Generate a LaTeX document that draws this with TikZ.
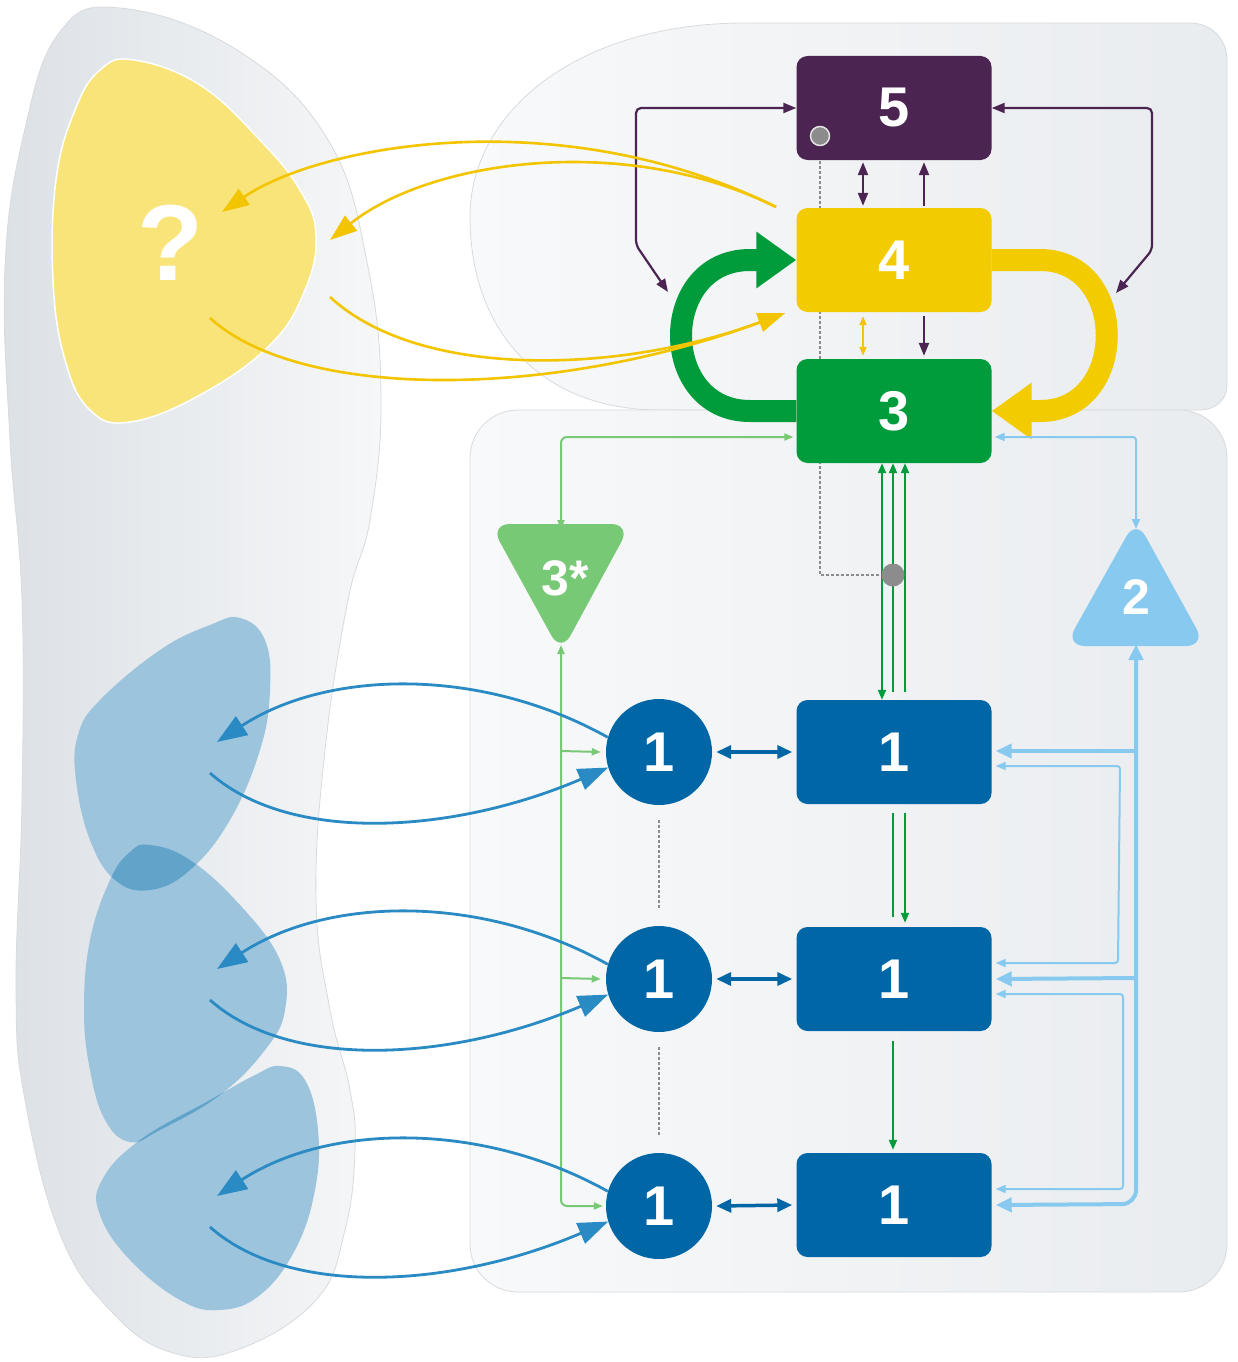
\documentclass[tikz,border=0pt]{standalone}
\usepackage{fontspec}
\newfontfamily\nf{Liberation Sans}
\usetikzlibrary{arrows.meta}
\definecolor{cpurp}{HTML}{4B2452}
\definecolor{cyel}{HTML}{F2CC00}
\definecolor{cgrn}{HTML}{009B3A}
\definecolor{cdblue}{HTML}{0066A6}
\definecolor{clgrn}{HTML}{78C976}
\definecolor{clblue}{HTML}{88C9EF}
\definecolor{cblobyel}{HTML}{F9E47A}
\definecolor{cblob}{HTML}{9DC4DD}
\definecolor{cblobdark}{HTML}{62A3CA}
\definecolor{cbarrow}{HTML}{2A8AC4}
\definecolor{cyarrow}{HTML}{F2C500}
\definecolor{cgray}{HTML}{8C8C8C}
\definecolor{cpanL}{HTML}{F8F9FA}
\definecolor{cpanR}{HTML}{E9ECEF}
\definecolor{couterL}{HTML}{DCE1E6}
\definecolor{couterR}{HTML}{F6F7F8}
\definecolor{cborder}{HTML}{D8DBDE}
\tikzset{
  box/.style={rectangle, rounded corners=11pt, minimum width=195pt, minimum height=104pt, inner sep=0pt, text=white, font=\nf\bfseries\fontsize{56}{56}\selectfont},
  circ/.style={circle, fill=cdblue, minimum size=106pt, inner sep=0pt, text=white, font=\nf\bfseries\fontsize{56}{56}\selectfont},
  trilabel/.style={inner sep=0pt, text=white, font=\nf\bfseries\fontsize{50}{50}\selectfont},
  gdotnode/.style={circle, fill=cgray, draw=white!75!cgray, line width=1.5pt, inner sep=0pt},
  gdotline/.style={draw=cgray, line width=2pt, dash pattern=on 2.5pt off 2.5pt},
  purp/.style={draw=cpurp, line width=2.2pt, rounded corners=5pt, >={Triangle[length=13pt,width=10pt]}},
  yelthin/.style={draw=cyarrow, line width=2.6pt, >={Triangle[length=27pt,width=19pt]}},
  bluecurve/.style={draw=cbarrow, line width=2.8pt, >={Triangle[length=30pt,width=22pt]}},
  grnthin/.style={draw=cgrn, line width=2pt, >={Triangle[length=10pt,width=8pt]}},
  lgrn/.style={draw=clgrn, line width=2pt, rounded corners=6pt, >={Triangle[length=9pt,width=7pt]}},
  lblue/.style={draw=clblue, line width=2pt, rounded corners=3pt, >={Triangle[length=10pt,width=8pt]}},
  lbluethick/.style={draw=clblue, line width=4pt, rounded corners=14pt, >={Triangle[length=16pt,width=14pt]}},
  dblue/.style={draw=cdblue, line width=3.5pt, >={Triangle[length=15pt,width=13pt]}},
}
\begin{document}
\begin{tikzpicture}[x=1pt,y=-1pt]
\useasboundingbox (0,0) rectangle (1237,1362);
\fill[white] (0,0) rectangle (1237,1362);

% outer grey region
\path[draw=cborder, line width=0.8pt, left color=couterL, right color=couterR]
  plot[smooth cycle, tension=0.7] coordinates {(120,8) (237,50) (328,140) (368,267) (381,400) (370,520) (348,600) (325,750) (316,900) (330,1010) (350,1090) (355,1150) (345,1230) (316,1300) (237,1350) (170,1352) (110,1310) (60,1234) (25,1100) (16,990) (22,800) (22,600) (10,440) (5,267) (24,133) (59,33)};

% top-right panel
\path[draw=cborder, line width=0.8pt, left color=cpanL, right color=cpanR]
  (745,23) -- (1190,23) .. controls (1211,23) and (1227,39) .. (1227,60) -- (1227,385)
  .. controls (1227,400) and (1215,410) .. (1200,410) -- (660,410)
  .. controls (540,410) and (470,330) .. (470,217)
  .. controls (470,110) and (580,23) .. (745,23) -- cycle;
% lower-right panel
\path[draw=cborder, line width=0.8pt, left color=cpanL, right color=cpanR, rounded corners=48pt]
  (470,410) rectangle (1227,1292);

% yellow blob
\path[fill=cblobyel, draw=white, line width=1.5pt]
  plot[smooth cycle, tension=0.7] coordinates {(134,60) (200,85) (260,140) (300,190) (316,235) (305,290) (270,345) (200,395) (130,422) (90,410) (65,360) (53,280) (56,180) (75,110) (100,70)};
\node[inner sep=0pt, text=white, font=\nf\bfseries\fontsize{108}{108}\selectfont] (qm) at (170,243) {?};

% blue blobs
\def\blobA{plot[smooth cycle, tension=0.7] coordinates {(240,618) (265,640) (270,690) (260,750) (230,820) (190,870) (150,890) (115,880) (90,840) (76,780) (78,735) (100,700) (160,650) (210,625)}}
\def\blobB{plot[smooth cycle, tension=0.7] coordinates {(150,845) (190,860) (240,905) (280,960) (285,1010) (265,1050) (220,1095) (160,1130) (130,1142) (105,1120) (90,1070) (84,1010) (90,940) (110,880) (130,852)}}
\def\blobC{plot[smooth cycle, tension=0.7] coordinates {(280,1066) (305,1080) (318,1130) (315,1190) (295,1250) (260,1295) (220,1310) (180,1300) (130,1260) (100,1215) (102,1180) (140,1140) (210,1100) (255,1075)}}
\fill[cblob] \blobA;
\fill[cblob] \blobB;
\fill[cblob] \blobC;
\begin{scope}\clip \blobA; \fill[cblobdark] \blobB; \end{scope}
\begin{scope}\clip \blobB; \fill[cblobdark] \blobC; \end{scope}

% grey dotted link (behind boxes)
\coordinate (gd5) at (820,136);
\coordinate (gd3) at (893,575);
\draw[gdotline] (gd5) -- (820,575) -- (gd3);

% main boxes
\node[box, fill=cpurp] (box5) at (894,108) {5};
\node[box, fill=cyel] (box4) at (894,260) {4};
\node[box, fill=cgrn] (box3) at (894,411) {3};
\node[box, fill=cdblue] (b1a) at (894,752) {1};
\node[box, fill=cdblue] (b1b) at (894,979) {1};
\node[box, fill=cdblue] (b1c) at (894,1205) {1};

% circles
\node[circ] (c1a) at (659,752) {1};
\node[circ] (c1b) at (659,979) {1};
\node[circ] (c1c) at (659,1206) {1};

% triangles
\fill[clgrn, rounded corners=20pt] (490,524) -- (631,524) -- (561,653) -- cycle;
\node[trilabel] (t3s) at (565,578) {3*};
\coordinate (t3top) at (561,529);
\coordinate (t3bot) at (561,645);
\fill[clblue, rounded corners=20pt] (1136,519) -- (1206,646) -- (1065,646) -- cycle;
\node[trilabel] (t2) at (1136,597) {2};
\coordinate (t2top) at (1136,529);
\coordinate (t2bot) at (1136,644);

% thick green and yellow loops
\draw[draw=cgrn, line width=22pt, -{Triangle[length=40pt,width=54pt]}]
  (box3.west) -- (750,411) .. controls (658,411) and (658,260) .. (750,260) -- (box4.west);
\draw[draw=cyel, line width=22pt, -{Triangle[length=40pt,width=54pt]}]
  (box4.east) -- (1040,260) .. controls (1129,260) and (1129,411) .. (1040,411) -- (box3.east);

% purple connectors
\coordinate (pl) at (668,292);
\coordinate (pr) at (1116,293);
\draw[purp, <->] (box5.west) -- (636,108) -- (636,245) -- (pl);
\draw[purp, <->] (box5.east) -- (1152,108) -- (1152,250) -- (pr);
\draw[purp, <->] ([xshift=-31pt,yshift=-2pt]box5.south) -- ([xshift=-31pt,yshift=2pt]box4.north);
\draw[purp, ->] ([xshift=30pt,yshift=2pt]box4.north) -- ([xshift=30pt,yshift=-2pt]box5.south);
\draw[purp, ->] ([xshift=30pt,yshift=-4pt]box4.south) -- ([xshift=30pt,yshift=3pt]box3.north);
\draw[draw=cyarrow, line width=2pt, >={Triangle[length=9pt,width=7pt]}, <->] ([xshift=-31pt,yshift=-4pt]box4.south) -- ([xshift=-31pt,yshift=3pt]box3.north);

% thin yellow curves
\coordinate (ya) at (776,207);
\coordinate (y1) at (222,212);
\coordinate (y2) at (330,240);
\coordinate (y3) at (210,318);
\coordinate (y4) at (330,297);
\coordinate (yb) at (785,313);
\draw[yelthin, ->] (ya) .. controls (560,100) and (320,145) .. (y1);
\draw[yelthin, ->] (ya) .. controls (625,132) and (430,160) .. (y2);
\draw[yelthin, ->] (y3) .. controls (300,400) and (550,400) .. (yb);
\draw[yelthin, ->] (y4) .. controls (420,380) and (620,374) .. (yb);

% green thin links between 3 and 1s
\draw[grnthin, <->] ([xshift=-12pt]box3.south) -- ([xshift=-12pt]b1a.north);
\draw[grnthin, ->] ([xshift=-1pt,yshift=8pt]b1a.north) -- ([xshift=-1pt]box3.south);
\draw[grnthin, ->] ([xshift=11pt,yshift=8pt]b1a.north) -- ([xshift=11pt]box3.south);
\draw[grnthin] ([xshift=-1pt,yshift=-9pt]b1a.south) -- ([xshift=-1pt,yshift=10pt]b1b.north);
\draw[grnthin, ->] ([xshift=11pt,yshift=-9pt]b1a.south) -- ([xshift=11pt,yshift=4pt]b1b.north);
\draw[grnthin, ->] ([xshift=-1pt,yshift=-10pt]b1b.south) -- ([xshift=-1pt,yshift=3pt]b1c.north);

% light green connectors
\draw[lgrn, <->] (t3top) |- ([yshift=-26pt,xshift=-3pt]box3.west);
\draw[lgrn, <->] (t3bot) -- (561,1206) -- ([xshift=-3pt]c1c.west);
\draw[lgrn, ->] (561,751) -- ([xshift=-5pt]c1a.west);
\draw[lgrn, ->] (561,978) -- ([xshift=-5pt]c1b.west);

% light blue connectors
\draw[lblue, <->] (t2top) |- ([yshift=-26pt,xshift=3pt]box3.east);
\draw[lbluethick, <->] (t2bot) -- (1136,1204) -- ([xshift=4pt]b1c.east);
\draw[lbluethick, ->] (1136,751) -- ([xshift=4pt,yshift=1pt]b1a.east);
\draw[lbluethick, ->] (1136,978) -- ([xshift=4pt]b1b.east);
\draw[lblue, <->] ([xshift=4pt,yshift=-14pt]b1a.east) -- (1120,766) -- (1118,963) -- ([xshift=4pt,yshift=16pt]b1b.east);
\draw[lblue, <->] ([xshift=4pt,yshift=-15pt]b1b.east) -- (1123,994) -- (1123,1189) -- ([xshift=4pt,yshift=16pt]b1c.east);

% circle-box links
\draw[dblue, <->] ([xshift=4pt]c1a.east) -- ([xshift=-4pt]b1a.west);
\draw[dblue, <->] ([xshift=4pt]c1b.east) -- ([xshift=-4pt]b1b.west);
\draw[dblue, <->] ([xshift=4pt]c1c.east) -- ([xshift=-4pt]b1c.west);

% dotted links between circles
\draw[gdotline, line width=1.6pt] ([yshift=-15pt]c1a.south) -- ([yshift=16pt]c1b.north);
\draw[gdotline, line width=1.6pt] ([yshift=-15pt]c1b.south) -- ([yshift=16pt]c1c.north);

% blue curved arrows to/from blobs
\foreach \c/\cy in {c1a/752, c1b/979, c1c/1206}{
  \coordinate (bo\c) at (217,\cy-10);
  \coordinate (bi\c) at (210,\cy+21);
  \draw[bluecurve, ->] (\c.164) .. controls (480,\cy-86) and (327,\cy-82) .. (bo\c);
  \draw[bluecurve, ->] (bi\c) .. controls (290,\cy+92) and (453,\cy+82) .. (\c.197);
}

% grey dots
\node[gdotnode, minimum size=19pt] (dot5) at (gd5) {};
\node[gdotnode, minimum size=23pt, draw=none] (dot3) at (gd3) {};
\end{tikzpicture}
\end{document}
